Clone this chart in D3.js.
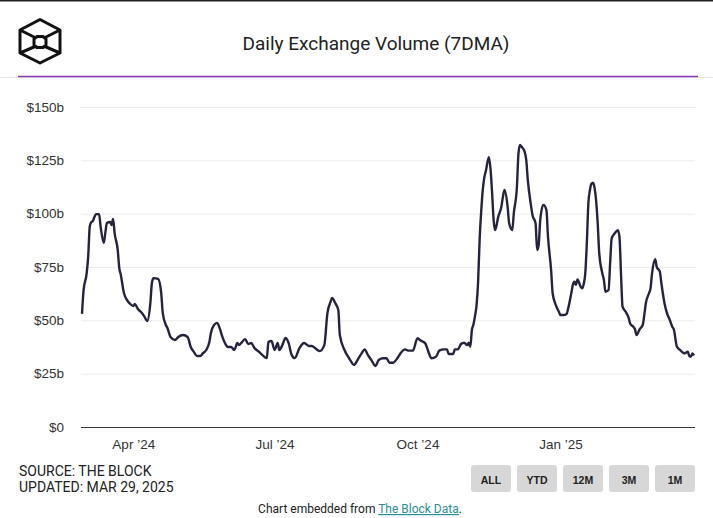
<!DOCTYPE html>
<html>
<head>
<meta charset="utf-8">
<script src="https://cdn.jsdelivr.net/npm/d3@7"></script>
<style>
  body { margin: 0; background: #fff; }
  svg { display: block; }
</style>
</head>
<body>
<div id="chart"></div>
<script>
// 7-day moving average of daily exchange volume, $ billions
const dates = [
  "2024-02-28","2024-02-29","2024-03-02","2024-03-03","2024-03-04","2024-03-05","2024-03-06","2024-03-07","2024-03-08","2024-03-10",
  "2024-03-11","2024-03-13","2024-03-14","2024-03-15","2024-03-17","2024-03-18","2024-03-19","2024-03-20","2024-03-22","2024-03-23",
  "2024-03-24","2024-03-26","2024-03-28","2024-03-30","2024-04-01","2024-04-02","2024-04-04","2024-04-06","2024-04-08","2024-04-10",
  "2024-04-12","2024-04-13","2024-04-14","2024-04-17","2024-04-19","2024-04-20","2024-04-22","2024-04-23","2024-04-25","2024-04-28",
  "2024-04-30","2024-05-03","2024-05-06","2024-05-08","2024-05-10","2024-05-12","2024-05-14","2024-05-16","2024-05-18","2024-05-20",
  "2024-05-21","2024-05-23","2024-05-25","2024-05-27","2024-05-28","2024-05-30","2024-06-01","2024-06-03","2024-06-05","2024-06-07",
  "2024-06-08","2024-06-10","2024-06-12","2024-06-14","2024-06-16","2024-06-18","2024-06-21","2024-06-23","2024-06-26","2024-06-27",
  "2024-06-29","2024-07-01","2024-07-03","2024-07-04","2024-07-06","2024-07-08","2024-07-10","2024-07-12","2024-07-14","2024-07-17",
  "2024-07-20","2024-07-23","2024-07-25","2024-07-27","2024-07-30","2024-08-02","2024-08-04","2024-08-06","2024-08-07","2024-08-09",
  "2024-08-11","2024-08-12","2024-08-15","2024-08-17","2024-08-19","2024-08-21","2024-08-24","2024-08-26","2024-08-28","2024-08-30",
  "2024-09-01","2024-09-04","2024-09-06","2024-09-09","2024-09-11","2024-09-13","2024-09-15","2024-09-18","2024-09-20","2024-09-23",
  "2024-09-25","2024-09-28","2024-10-01","2024-10-03","2024-10-06","2024-10-08","2024-10-10","2024-10-13","2024-10-15","2024-10-18",
  "2024-10-20","2024-10-21","2024-10-24","2024-10-25","2024-10-27","2024-10-29","2024-10-31","2024-11-02","2024-11-03","2024-11-04",
  "2024-11-05","2024-11-06","2024-11-07","2024-11-08","2024-11-09","2024-11-10","2024-11-11","2024-11-12","2024-11-13","2024-11-14",
  "2024-11-15","2024-11-16","2024-11-17","2024-11-18","2024-11-19","2024-11-20","2024-11-22","2024-11-24","2024-11-25","2024-11-26",
  "2024-11-28","2024-11-29","2024-12-01","2024-12-02","2024-12-04","2024-12-05","2024-12-06","2024-12-07","2024-12-09","2024-12-10",
  "2024-12-11","2024-12-13","2024-12-14","2024-12-16","2024-12-17","2024-12-18","2024-12-19","2024-12-21","2024-12-23","2024-12-24",
  "2024-12-26","2024-12-27","2024-12-29","2024-12-31","2025-01-01","2025-01-03","2025-01-05","2025-01-06","2025-01-08","2025-01-09",
  "2025-01-10","2025-01-11","2025-01-12","2025-01-14","2025-01-15","2025-01-16","2025-01-17","2025-01-18","2025-01-19","2025-01-20",
  "2025-01-21","2025-01-22","2025-01-23","2025-01-24","2025-01-25","2025-01-26","2025-01-28","2025-01-29","2025-01-30","2025-02-01",
  "2025-02-02","2025-02-03","2025-02-05","2025-02-07","2025-02-08","2025-02-09","2025-02-10","2025-02-12","2025-02-14","2025-02-15",
  "2025-02-17","2025-02-18","2025-02-19","2025-02-21","2025-02-23","2025-02-24","2025-02-25","2025-02-27","2025-02-28","2025-03-01",
  "2025-03-03","2025-03-04","2025-03-06","2025-03-07","2025-03-09","2025-03-11","2025-03-12","2025-03-14","2025-03-15","2025-03-17",
  "2025-03-19","2025-03-21","2025-03-22","2025-03-24","2025-03-25","2025-03-26","2025-03-27","2025-03-28"
];
const volumes = [
  53, 64, 72, 80, 94, 96, 96.6, 98.4, 99.8, 99.8,
  93.8, 86.3, 90.9, 95.6, 96.1, 94.7, 97.5, 90.9, 83, 74.5,
  71.3, 62.8, 59.5, 57.7, 56.7, 57.7, 55.3, 53.9, 52, 49.7,
  58.1, 67.5, 69.8, 69.4, 62.8, 53.4, 47.8, 46.4, 42.2, 40.8,
  42.2, 43.1, 42.2, 37.5, 35.2, 33.3, 33.3, 34.7, 36.1, 39.8,
  44.1, 47.8, 48.8, 45.5, 43.1, 39.4, 37.5, 37.5, 36.1, 39.4,
  38.4, 39.8, 41.2, 38.9, 39.4, 37, 35.2, 33.8, 32.3, 39.8,
  40.3, 36.1, 39.4, 36.1, 38.4, 41.7, 39.4, 33.8, 32.3, 37,
  39.4, 38, 38, 37, 35.6, 38.4, 53.4, 58.6, 60.5, 58.1,
  54.8, 43.1, 36.1, 33.3, 31, 29.1, 32.2, 34.5, 36.4, 33.8,
  31.7, 28.6, 31.4, 32.2, 32.2, 30.1, 30.1, 32.2, 34.5, 36.4,
  35.8, 35.8, 41.6, 40.5, 39.2, 35.3, 32.2, 33, 35.8, 36.4,
  36.4, 34.2, 34.2, 36.4, 36.4, 38.9, 39.5, 38.4, 39.5, 37.6,
  45.5, 48, 52, 57, 68, 88, 101, 111, 117, 120,
  124, 126.5, 121, 110, 97, 92.3, 98.6, 103.3, 108, 111.1,
  103.3, 95.5, 92.3, 100.2, 112.6, 128.3, 132.2, 131.4, 129, 125.2,
  115.8, 104.1, 99.4, 95.5, 83, 85.3, 97, 104.1, 101.7, 89.2,
  73.6, 62.7, 57.2, 54, 52.5, 52.5, 53, 55.6, 62.7, 66.6,
  68.1, 66.6, 69.2, 65.8, 65, 67, 72, 86, 105, 111,
  114, 114.5, 112, 106, 95.5, 81.4, 72, 68.9, 63.4, 64.2,
  76.7, 88.4, 90.8, 92.3, 89.2, 72, 56.4, 54, 51, 48.3,
  47, 45.8, 43.1, 45.8, 47.8, 52.5, 58, 62.7, 65, 72,
  78.6, 75.1, 72.8, 67.4, 58, 52.5, 51, 47, 45.8, 37.6,
  36.1, 34.8, 34.5, 35.3, 33.3, 33, 34.5, 33.5
];
const yTicks = [0, 25, 50, 75, 100, 125, 150];
const xTicks = ["2024-04-01", "2024-07-01", "2024-10-01", "2025-01-01"];
const rangeButtons = ["ALL", "YTD", "12M", "3M", "1M"];

const width = 713, height = 518;
const parse = d3.utcParse("%Y-%m-%d");
const data = dates.map((d, i) => ({ date: parse(d), value: volumes[i] }));

const svg = d3.select("#chart").append("svg")
  .attr("width", width)
  .attr("height", height)
  .attr("font-family", "'Liberation Sans', Arial, sans-serif");

// thin dark strip at very top of the screenshot
svg.append("rect").attr("x", 0).attr("y", 0).attr("width", width).attr("height", 1.5).attr("fill", "#222");

// logo (cube outline seen from inside)
const logo = svg.append("g")
  .attr("fill", "none").attr("stroke", "#111").attr("stroke-width", 3).attr("stroke-linejoin", "round");
logo.append("path").attr("d", "M40,19.5 L60,30 L60,53 L40,63 L20,53 L20,30 Z");
logo.append("path").attr("d", "M20,30 L35,37.5 M60,30 L45,37.5 M20,53 L35,46.5 M60,53 L45,46.5");
logo.append("path").attr("d", "M37,36.5 L43,36.5 L46,39 L46,45 L43,47.5 L37,47.5 L34,45 L34,39 Z");

svg.append("text")
  .attr("x", 376).attr("y", 50)
  .attr("text-anchor", "middle")
  .attr("font-size", 19)
  .attr("fill", "#222")
  .attr("font-family", "'Liberation Sans Narrow', 'Roboto', sans-serif")
  .text("Daily Exchange Volume (7DMA)");

svg.append("line").attr("x1", 0).attr("x2", width).attr("y1", 77.5).attr("y2", 77.5)
  .attr("stroke", "#e4e4e4").attr("stroke-width", 1);
svg.append("line").attr("x1", 18).attr("x2", 698).attr("y1", 76.5).attr("y2", 76.5)
  .attr("stroke", "#8a3bb5").attr("stroke-width", 1.5);

// scales
const x = d3.scaleUtc()
  .domain([parse("2024-02-28"), parse("2025-03-28")])
  .range([82, 694]);
const y = d3.scaleLinear().domain([0, 150]).range([427, 107]);

// y grid + labels
const yAxis = svg.append("g")
  .attr("transform", "translate(81,0)")
  .call(d3.axisLeft(y).tickValues(yTicks).tickSize(-614).tickPadding(17)
    .tickFormat(d => d === 0 ? "$0" : `$${d}b`));
yAxis.select(".domain").remove();
yAxis.selectAll(".tick line").attr("stroke", d => d === 0 ? "#3a3a3a" : "#ececec")
  .attr("stroke-width", d => d === 0 ? 1.2 : 1);
yAxis.selectAll(".tick text").attr("font-size", 13.5).attr("fill", "#333");

// x labels
const xAxis = svg.append("g")
  .attr("transform", "translate(0,427)")
  .call(d3.axisBottom(x).tickValues(xTicks.map(parse)).tickSize(0).tickPadding(12)
    .tickFormat(d3.utcFormat("%b ’%y")));
xAxis.select(".domain").remove();
xAxis.selectAll(".tick text").attr("font-size", 13.5).attr("fill", "#333");

// series
const line = d3.line()
  .x(d => x(d.date))
  .y(d => y(d.value))
  .curve(d3.curveMonotoneX);

svg.append("path")
  .datum(data)
  .attr("fill", "none")
  .attr("stroke", "#24243d")
  .attr("stroke-width", 2.4)
  .attr("stroke-linejoin", "round")
  .attr("d", line);

// source block
const src = svg.append("g")
  .attr("font-family", "'Liberation Sans Narrow', 'Roboto', sans-serif")
  .attr("font-size", 14).attr("fill", "#222");
src.append("text").attr("x", 19).attr("y", 476).text("SOURCE: THE BLOCK");
src.append("text").attr("x", 19).attr("y", 492).text("UPDATED: MAR 29, 2025");

// range buttons
const btn = svg.append("g").selectAll("g")
  .data(rangeButtons)
  .join("g")
  .attr("transform", (d, i) => `translate(${471 + i * 46},465)`);
btn.append("rect")
  .attr("width", 40).attr("height", 27).attr("rx", 3)
  .attr("fill", "#d7d7d7");
btn.append("text")
  .attr("x", 20).attr("y", 19)
  .attr("text-anchor", "middle")
  .attr("font-size", 10.5).attr("font-weight", "bold")
  .attr("fill", "#222")
  .text(d => d);

// embed credit
const credit = svg.append("text")
  .attr("x", 360).attr("y", 513)
  .attr("text-anchor", "middle")
  .attr("font-size", 12)
  .attr("font-family", "'Liberation Sans Narrow', 'Roboto', sans-serif")
  .attr("fill", "#222");
credit.append("tspan").text("Chart embedded from ");
credit.append("tspan").attr("fill", "#2a8f94").attr("text-decoration", "underline").text("The Block Data");
credit.append("tspan").text(".");
</script>
</body>
</html>
